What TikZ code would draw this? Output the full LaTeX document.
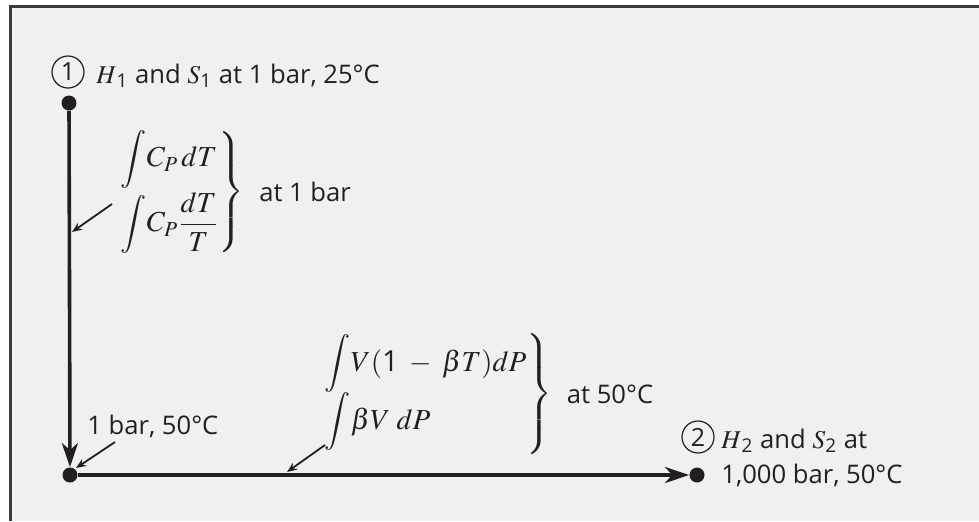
\documentclass[tikz,border=0pt]{standalone}
\usepackage{mathptmx}
\usepackage{fontspec}
\setmainfont{Open Sans}
\usetikzlibrary{arrows.meta, positioning}
\definecolor{ink}{HTML}{231F20}
\definecolor{panel}{HTML}{F0F0F0}
\definecolor{frame}{HTML}{3C3C3C}

\begin{document}
\begin{tikzpicture}[
    x=0.5pt, y=-0.5pt,
    dot/.style={
        circle, fill=ink, inner sep=0pt, minimum size=7.5pt
    },
    statenum/.style={
        circle, draw=ink, line width=0.6pt, inner sep=0pt,
        minimum size=16pt, text=ink, font=\fontsize{12.5}{12.5}\selectfont
    },
    lbl/.style={
        inner sep=0pt, text=ink, align=left,
        font=\fontsize{12.8}{17.5}\selectfont
    },
    eqn/.style={
        inner sep=0pt, text=ink, font=\fontsize{14.5}{16}\selectfont
    },
    route/.style={line width=1.8pt, draw=ink, -{Stealth[length=12pt, width=8pt, inset=3.5pt]}},
    pointer/.style={line width=0.9pt, draw=ink, -{Stealth[length=5pt, width=4pt]}},
]

\useasboundingbox (0,0) rectangle (979,521);
\fill[panel] (10,6) rectangle (979,521);
\draw[frame, line width=1.5pt] (10,521) -- (10,6) -- (979,6);

% states
\node[dot] (s1)  at (69,103) {};
\node[dot] (mid) at (70,475) {};
\node[dot] (s2)  at (697,475) {};

\node[statenum] (n1) at (68,72) {1};
\node[lbl, anchor=base west] (l1) at (96,83) {$H$\textsubscript{1} and $S$\textsubscript{1} at 1 bar, 25°C};

\node[statenum] (n2) at (698,437) {2};
\node[lbl, anchor=base west] (l2) at (721,483) {$H$\textsubscript{2} and $S$\textsubscript{2} at\\1,000 bar, 50°C};

\node[lbl, anchor=base west] (lmid) at (87,434) {1 bar, 50°C};

% the two steps
\draw[route] (s1) -- (mid);
\draw[route] (mid) -- (s2);

% integrals
\node[eqn, anchor=west] (int1) at (118,192) {$\left.\begin{array}{@{}l@{}}
    \displaystyle\int\! C_P\,dT\\[8pt]
    \displaystyle\int\! C_P\frac{dT}{T}
  \end{array}\right\}$};
\node[lbl, right=7pt of int1] (c1) {at 1 bar};

\node[eqn, anchor=west] (int2) at (322,394) {$\left.\begin{array}{@{}l@{}}
    \displaystyle\int\! V(\mbox{1}\;-\;\beta T)dP\\[5pt]
    \displaystyle\int\! \beta V\;dP\vrule width 0pt depth 12pt
  \end{array}\right\}$};
\node[lbl, right=7pt of int2] (c2) {at 50°C};

% pointers
\coordinate (p1) at (112,204);
\coordinate (t1) at (72,232);
\coordinate (p2) at (115,442);
\coordinate (t2) at (76,468);
\coordinate (p3) at (325,445);
\coordinate (t3) at (287,472);
\draw[pointer] (p1) -- (t1);
\draw[pointer] (p2) -- (t2);
\draw[pointer] (p3) -- (t3);

\end{tikzpicture}
\end{document}
